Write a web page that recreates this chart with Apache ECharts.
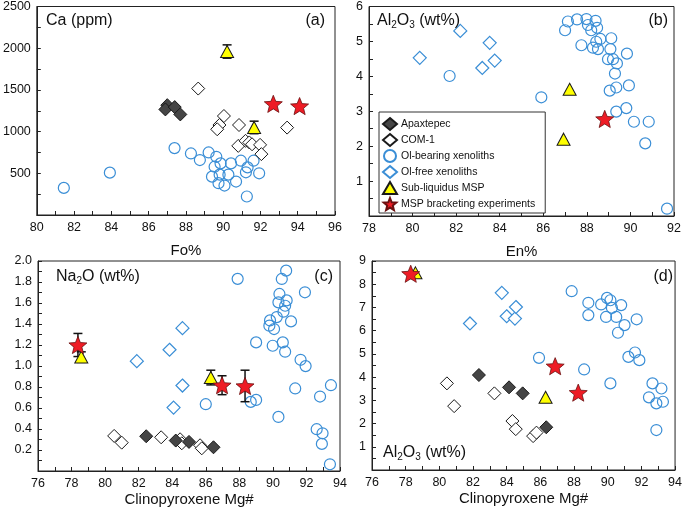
<!DOCTYPE html>
<html><head><meta charset="utf-8">
<script src="https://cdn.jsdelivr.net/npm/echarts@6/dist/echarts.min.js"></script>
<style>html,body{margin:0;padding:0;background:#fff}#c{width:685px;height:510px}</style>
</head><body><div id="c"></div>
<script>
// ---------- Panel (a): Fo% vs Ca (ppm) ----------
const a_apax = [[87.0,1317],[86.9,1266],[87.4,1294],[87.7,1206]];
const a_com1 = [[88.66,1516],[90.04,1187],[89.8,1079],[89.68,1028],[90.85,1079],[90.81,829],[91.2,889],[91.4,870],[91.55,848],[91.98,841],[92.05,730],[93.43,1048]];
const a_olBear = [[81.45,325],[83.92,508],[87.39,802],[88.27,738],[88.75,659],[89.22,750],[89.63,698],[89.54,579],[89.86,619],[89.4,460],[89.81,484],[89.75,381],[90.07,353],[90.28,484],[90.42,619],[90.69,401],[90.95,651],[91.31,571],[91.22,512],[91.27,222],[91.63,651],[91.93,500]];
const a_subliq = [[90.21,1960],[91.66,1050]];
const a_subliqErr = [80,75];
const a_msp = [[92.69,1333],[94.1,1306]];

// ---------- Panel (b): En% vs Al2O3 ----------
const b_olFree = [[80.33,4.53],[82.19,5.30],[83.54,4.96],[83.2,4.24],[83.77,4.45]];
const b_olBear = [[81.70,4.01],[85.91,3.40],[87.0,5.32],[87.13,5.57],[87.55,5.63],[87.98,5.64],[88.05,5.47],[88.4,5.59],[88.2,5.32],[88.47,5.39],[87.75,4.89],[88.28,4.82],[88.51,4.78],[88.43,4.99],[88.62,5.07],[89.12,5.09],[89.08,4.78],[88.97,4.49],[89.2,4.49],[89.38,4.37],[89.29,4.08],[89.84,4.65],[89.05,3.59],[89.35,3.68],[89.93,3.74],[89.35,2.99],[89.81,3.09],[90.16,2.70],[90.84,2.70],[90.68,2.08],[91.68,0.21]];
const b_subliq = [[87.21,3.63],[86.93,2.20]];
const b_msp = [[88.82,2.78]];

// ---------- Panel (c): Cpx Mg# vs Na2O ----------
const c_apax = [[82.45,0.331],[84.21,0.29],[85.0,0.277],[86.46,0.226]];
const c_com1 = [[80.54,0.334],[80.99,0.27],[83.34,0.321],[84.47,0.302],[84.57,0.264],[85.66,0.245],[85.76,0.216]];
const c_olFree = [[81.89,1.046],[83.84,1.155],[84.61,1.36],[84.61,0.814],[84.08,0.604]];
const c_olBear = [[87.9,1.83],[86.0,0.636],[88.68,0.658],[89.0,0.677],[89.0,1.225],[89.83,1.434],[89.79,1.384],[90.07,1.352],[89.99,1.193],[90.23,1.466],[90.33,1.606],[90.39,1.686],[90.53,1.829],[90.79,1.908],[90.82,1.625],[90.73,1.574],[90.63,1.517],[90.59,1.225],[90.73,1.136],[91.08,1.425],[90.33,0.515],[91.33,0.786],[91.65,1.059],[91.95,0.999],[91.91,1.702],[92.81,0.709],[92.61,0.398],[92.96,0.359],[92.92,0.258],[93.46,0.817],[93.4,0.064]];
const c_subliq = [[78.58,1.085],[86.3,0.89]];
const c_subliqErr = [0.05,0.07];
const c_msp = [[78.38,1.20],[86.97,0.817],[88.34,0.81]];
const c_mspErr = [0.11,0.09,0.15];

// ---------- Panel (d): Cpx Mg# vs Al2O3 ----------
const d_apax = [[82.35,4.09],[84.14,3.56],[84.95,3.30],[86.35,1.84]];
const d_com1 = [[80.45,3.73],[80.88,2.75],[83.27,3.30],[84.34,2.11],[84.54,1.76],[85.57,1.46],[85.77,1.61]];
const d_olFree = [[81.82,6.31],[83.71,7.63],[84.0,6.62],[84.49,6.52],[84.55,7.02]];
const d_olBear = [[87.86,7.70],[88.85,7.20],[88.85,6.67],[85.92,4.83],[88.6,4.33],[89.61,7.13],[89.96,7.41],[90.16,7.31],[90.25,6.98],[89.9,6.59],[90.51,6.59],[90.8,7.10],[90.61,5.91],[91.0,6.24],[91.72,6.49],[91.23,4.87],[91.62,5.06],[91.88,4.73],[90.16,3.73],[92.45,3.13],[92.66,3.73],[93.19,3.51],[92.89,2.87],[93.28,2.94],[92.89,1.72]];
const d_subliq = [[78.58,8.49],[86.31,3.13]];
const d_msp = [[78.3,8.45],[86.88,4.47],[88.25,3.33]];

// ---------- axis ticks / labels ----------
const xTitles = ['Fo%','En%','Clinopyroxene Mg#','Clinopyroxene Mg#'];
const xRanges = [[80,96],[78,92],[76,94],[76,94]];
const yRanges = [[0,2500,500],[0,6,1],[0,2,0.2],[0,9,1]];

const N_APAX='Apaxtepec', N_COM='COM-1', N_OLB='Ol-bearing xenoliths', N_OLF='Ol-free xenoliths', N_SUB='Sub-liquidus MSP', N_MSP='MSP bracketing experiments';
const legendNames = [N_APAX,N_COM,N_OLB,N_OLF,N_SUB,N_MSP];

const STAR = 'path://M50 0 L62.93 32.2 L97.55 34.55 L70.92 56.8 L79.39 90.45 L50 72 L20.61 90.45 L29.08 56.8 L2.45 34.55 L37.07 32.2 Z';
const BLUE = '#3a8ed6';
const styles = {};
styles[N_APAX] = {symbol:'diamond', symbolSize:13, z:3, itemStyle:{color:'#454545', borderColor:'#1a1a1a', borderWidth:1, opacity:1}};
styles[N_COM]  = {symbol:'diamond', symbolSize:13, z:3, itemStyle:{color:'#fff', borderColor:'#1a1a1a', borderWidth:1, opacity:1}};
styles[N_OLB]  = {symbol:'circle', symbolSize:11, z:2, itemStyle:{color:'rgba(255,255,255,0)', borderColor:BLUE, borderWidth:1.2, opacity:1}};
styles[N_OLF]  = {symbol:'diamond', symbolSize:13, z:3, itemStyle:{color:'#fff', borderColor:BLUE, borderWidth:1.2, opacity:1}};
styles[N_SUB]  = {symbol:'triangle', symbolSize:[13,12], z:5, itemStyle:{color:'#ffff00', borderColor:'#1a1a1a', borderWidth:1, opacity:1}};
styles[N_MSP]  = {symbol:STAR, symbolSize:18, symbolKeepAspect:true, z:6, itemStyle:{color:'#ee1c25', borderColor:'#6a1010', borderWidth:0.8, opacity:1}};

const grids = [
  {left:33, top:5, width:302, height:210},
  {left:369, top:6, width:305, height:210},
  {left:38, top:261, width:302, height:210},
  {left:372, top:261, width:308, height:209}
].map(g => Object.assign(g, {show:true, borderColor:'#222', borderWidth:1, backgroundColor:'transparent'}));

const xAxes = xRanges.map((r,i)=>({
  type:'value', gridIndex:i, min:r[0], max:r[1], interval:2,
  name:xTitles[i], nameLocation:'middle', nameGap:(i<2?28:21),
  nameTextStyle:{fontSize:15, color:'#111', fontFamily:'Liberation Sans'},
  axisLine:{show:true, lineStyle:{color:'#222', width:1}},
  axisTick:{show:true, inside:true, length:4, lineStyle:{color:'#222'}},
  minorTick:{show:true, splitNumber:2, length:4, lineStyle:{color:'#222'}},
  axisLabel:{fontSize:12.5, color:'#111', margin:6, fontFamily:'Liberation Sans'},
  splitLine:{show:false}
}));
const yAxes = yRanges.map((r,i)=>({
  type:'value', gridIndex:i, min:r[0], max:r[1], interval:r[2],
  axisLine:{show:true, lineStyle:{color:'#222', width:1}},
  axisTick:{show:true, inside:true, length:4, lineStyle:{color:'#222'}},
  minorTick:{show:true, splitNumber:2, length:4, lineStyle:{color:'#222'}},
  axisLabel:{fontSize:12.5, color:'#111', margin:6, showMinLabel:false, fontFamily:'Liberation Sans',
    formatter: v => (i===2 ? v.toFixed(1) : String(v))},
  splitLine:{show:false}
}));

const series = [];
function sc(gi, name, data){
  const s = styles[name];
  series.push(Object.assign({type:'scatter', name, xAxisIndex:gi, yAxisIndex:gi, data, silent:true}, JSON.parse(JSON.stringify(s)), {symbolKeepAspect: !!s.symbolKeepAspect}));
}
function err(gi, pts, errs){
  series.push({type:'custom', xAxisIndex:gi, yAxisIndex:gi, z:4, silent:true,
    data: pts.map((p,k)=>[p[0],p[1],errs[k]]),
    encode:{x:0,y:1},
    renderItem:(params, api)=>{
      const x=api.value(0), y=api.value(1), e=api.value(2);
      const t=api.coord([x,y+e]), b=api.coord([x,y-e]); const w=4.5;
      const st={stroke:'#111', lineWidth:1.5};
      return {type:'group', children:[
        {type:'line', shape:{x1:t[0],y1:t[1],x2:b[0],y2:b[1]}, style:st},
        {type:'line', shape:{x1:t[0]-w,y1:t[1],x2:t[0]+w,y2:t[1]}, style:st},
        {type:'line', shape:{x1:b[0]-w,y1:b[1],x2:b[0]+w,y2:b[1]}, style:st}
      ]};
    }});
}
// (a)
sc(0,N_OLB,a_olBear); sc(0,N_APAX,a_apax); sc(0,N_COM,a_com1); err(0,a_subliq,a_subliqErr); sc(0,N_SUB,a_subliq); sc(0,N_MSP,a_msp);
// (b)
sc(1,N_OLB,b_olBear); sc(1,N_OLF,b_olFree); sc(1,N_SUB,b_subliq); sc(1,N_MSP,b_msp);
// (c)
sc(2,N_OLB,c_olBear); sc(2,N_OLF,c_olFree); sc(2,N_COM,c_com1); sc(2,N_APAX,c_apax);
err(2,c_subliq,c_subliqErr); err(2,c_msp,c_mspErr); sc(2,N_SUB,c_subliq); sc(2,N_MSP,c_msp);
// (d)
sc(3,N_OLB,d_olBear); sc(3,N_OLF,d_olFree); sc(3,N_COM,d_com1); sc(3,N_APAX,d_apax); sc(3,N_MSP,d_msp); sc(3,N_SUB,d_subliq);

const richMain = {a:{fontSize:16, lineHeight:18, color:'#111', fontFamily:'Liberation Sans'}, s:{fontSize:10, lineHeight:10, verticalAlign:'bottom', color:'#111', fontFamily:'Liberation Sans'}};
function label(x, y, text, align){
  return {type:'text', x, y, z:100, silent:true, style:{text, rich:richMain, font:'16px Liberation Sans', fill:'#111', align:align||'left', verticalAlign:'middle'}};
}

const option = {
  backgroundColor:'#fff',
  animation:false,
  grid:grids, xAxis:xAxes, yAxis:yAxes, series,
  legend:{data:legendNames, orient:'vertical', left:379, top:112, itemWidth:14, itemHeight:12, itemGap:2,
    padding:[5,10,2,3], borderColor:'#333', borderWidth:1, backgroundColor:'#fff', selectedMode:false,
    textStyle:{fontSize:10.5, color:'#111', fontFamily:'Liberation Sans', padding:[0,0,0,-1]}, z:50},
  graphic:[
    label(46,21,'{a|Ca (ppm)}'),
    label(325,21,'{a|(a)}','right'),
    label(377,21,'{a|Al}{s|2}{a|O}{s|3}{a| (wt%)}'),
    label(668,21,'{a|(b)}','right'),
    label(56,277,'{a|Na}{s|2}{a|O (wt%)}'),
    label(333,277,'{a|(c)}','right'),
    label(383,453,'{a|Al}{s|2}{a|O}{s|3}{a| (wt%)}'),
    label(673,277,'{a|(d)}','right')
  ]
};
const chart = echarts.init(document.getElementById('c'), null, {renderer:'canvas'});
chart.setOption(option);
</script></body></html>
